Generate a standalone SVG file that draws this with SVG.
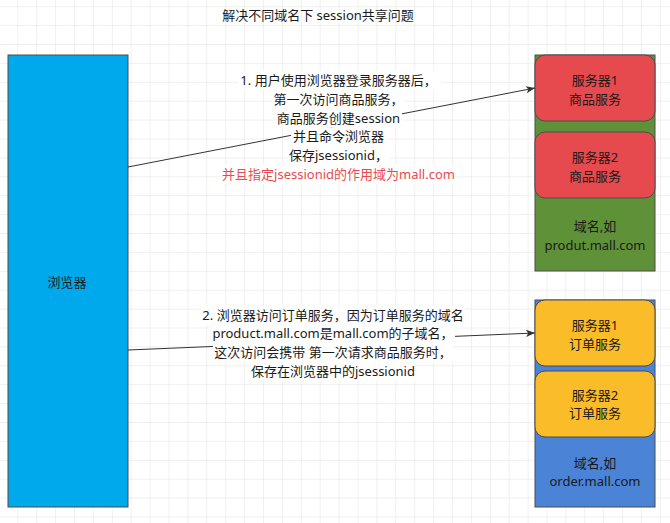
<svg xmlns="http://www.w3.org/2000/svg" width="670" height="523" viewBox="0 0 670 523">
<style>
text{font-family:"Noto Sans","Noto Sans CJK SC",sans-serif;font-size:13px;fill:#1a1a1a;text-anchor:middle}
.bg{fill:#ffffff}
.red{fill:#E84A4F}
.box{stroke:#4d4d4d;stroke-width:1}
.edge{stroke:#333;stroke-width:1;fill:none;marker-end:url(#arr)}
</style>
<defs>
<pattern id="grid" width="18.9" height="18.9" patternUnits="userSpaceOnUse" x="-1.6" y="6.2">
<path d="M0 0H18.9M0 0V18.9" stroke="#e2e2e2" stroke-width="1" fill="none"/>
</pattern>
<marker id="arr" viewBox="0 0 10 10" refX="10" refY="5" markerWidth="9" markerHeight="9" markerUnits="userSpaceOnUse" orient="auto">
<path d="M0,1 L10,5 L0,9 L2.5,5 z" fill="#333"/>
</marker>
</defs>
<rect width="670" height="523" fill="#fff"/>
<rect width="670" height="523" fill="url(#grid)"/>
<text x="318" y="19.5">解决不同域名下 session共享问题</text>

<g id="browser">
<rect class="box" x="8" y="55" width="120" height="452" fill="#00A9EC"/>
<text x="67" y="287">浏览器</text>
</g>

<g id="product-domain">
<rect class="box" x="535" y="55" width="120" height="216" fill="#5F9139"/>
<text x="595" y="231">域名,如</text>
<text x="595" y="250">produt.mall.com</text>
</g>
<g id="product-server1">
<rect class="box" x="535" y="55" width="120" height="66" rx="10" fill="#E64A4E"/>
<text x="595" y="85">服务器1</text>
<text x="595" y="104">商品服务</text>
</g>
<g id="product-server2">
<rect class="box" x="535" y="132" width="120" height="66" rx="10" fill="#E64A4E"/>
<text x="595" y="162">服务器2</text>
<text x="595" y="181">商品服务</text>
</g>

<g id="order-domain">
<rect class="box" x="535" y="300" width="120" height="207" fill="#4B83D6"/>
<text x="595" y="468">域名,如</text>
<text x="595" y="486">order.mall.com</text>
</g>
<g id="order-server1">
<rect class="box" x="535" y="300" width="120" height="66" rx="10" fill="#FBBC29"/>
<text x="595" y="330">服务器1</text>
<text x="595" y="349">订单服务</text>
</g>
<g id="order-server2">
<rect class="box" x="535" y="371" width="120" height="66" rx="10" fill="#FBBC29"/>
<text x="595" y="400">服务器2</text>
<text x="595" y="418">订单服务</text>
</g>

<g id="connectors">
<g id="edge1">
<path class="edge" d="M128 167 L535 88"/>
<rect class="bg" x="238" y="71" width="203" height="19"/>
<rect class="bg" x="272" y="90" width="133" height="19"/>
<rect class="bg" x="276" y="108.5" width="126" height="19"/>
<rect class="bg" x="291" y="127.3" width="96" height="19"/>
<rect class="bg" x="290" y="146.1" width="100" height="19"/>
<rect class="bg" x="223" y="165" width="232" height="19"/>
<text x="338.5" y="85">1. 用户使用浏览器登录服务器后，</text>
<text x="338.5" y="104">第一次访问商品服务，</text>
<text x="338.5" y="122.5">商品服务创建session</text>
<text x="338.5" y="141.3">并且命令浏览器</text>
<text x="338.5" y="160.1">保存jsessionid，</text>
<text x="338.5" y="179" class="red">并且指定jsessionid的作用域为mall.com</text>
</g>
<g id="edge2">
<path class="edge" d="M128 350 L535 333"/>
<rect class="bg" x="201" y="305.5" width="264" height="19"/>
<rect class="bg" x="212" y="324" width="243" height="19"/>
<rect class="bg" x="213" y="343" width="240" height="19"/>
<rect class="bg" x="251" y="361.5" width="164" height="19"/>
<text x="333" y="319.5">2. 浏览器访问订单服务，因为订单服务的域名</text>
<text x="333" y="338">product.mall.com是mall.com的子域名，</text>
<text x="333" y="357">这次访问会携带 第一次请求商品服务时，</text>
<text x="333" y="375.5">保存在浏览器中的jsessionid</text>
</g>
</g>
</svg>
